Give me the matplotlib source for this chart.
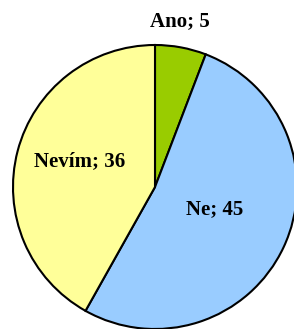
import numpy as np
import matplotlib
matplotlib.use("Agg")
import matplotlib.pyplot as plt

labels = ["Ano", "Ne", "Nevím"]
values = [5, 45, 36]
colors = ["#99CC00", "#99CCFF", "#FFFF99"]
# radial distance of each label from the centre (fraction of radius)
label_dist = [1.18, 0.45, 0.56]
label_shift = [2, 5, -4]  # small angular tweak in degrees

fig = plt.figure(figsize=(2.94, 3.29), dpi=100)
ax = fig.add_axes([0, 0, 1, 1])
ax.axis("off")

wedges, _ = ax.pie(values, colors=colors, startangle=90, counterclock=False,
                   radius=1.0, wedgeprops=dict(edgecolor="black", linewidth=1.5))

for w, lab, val, d, sh in zip(wedges, labels, values, label_dist, label_shift):
    ang = np.deg2rad((w.theta1 + w.theta2) / 2 + sh)
    ax.text(d * np.cos(ang), d * np.sin(ang), f"{lab}; {val}",
            ha="center", va="center", fontsize=15, fontweight="bold",
            family="Liberation Serif")

ax.set_xlim(-155 / 142, (294 - 155) / 142)
ax.set_ylim(-142 / 142, 187 / 142)
ax.set_aspect("equal")

fig.savefig("out.png", dpi=100)
